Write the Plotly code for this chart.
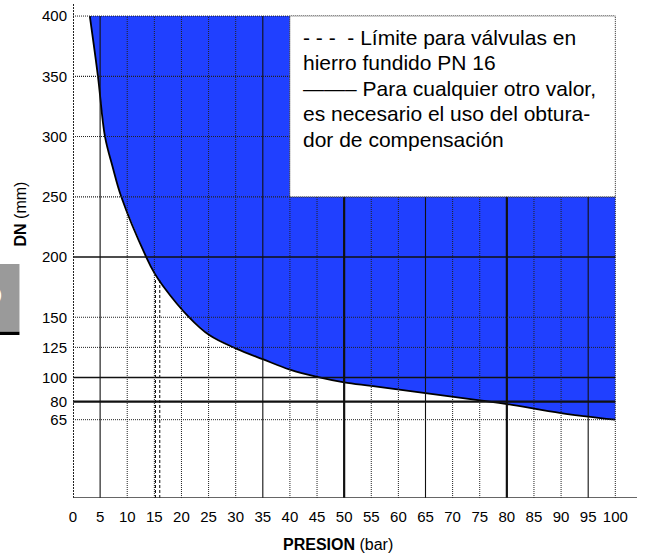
import plotly.graph_objects as go

# ---- data ----
pressure_bar = [3.1, 4.6, 5.9, 7.3, 8.9, 13.5, 15.1, 16.6, 21.2, 25.2, 30.1, 35.1, 40.0, 45.0, 50.0, 55.0, 65.0, 75.0, 80.0, 90.0, 100.0]
dn_limit_mm = [400, 350, 300, 275, 250, 200, 186, 176, 151, 135, 124, 115, 106.5, 100.5, 96, 93, 87, 81, 78, 70.5, 65]

box_pressure = [40, 100]        # legend box (white area) in bar
box_dn = [250, 400]             # legend box in mm

pn16_pressure = [15.2, 16.0]    # dashed limit for cast iron PN 16
pn16_top_dn = 181

x_ticks = list(range(0, 101, 5))
y_ticks = [65, 80, 100, 125, 150, 200, 250, 300, 350, 400]

x_solid = {5: 1.1, 35: 1.1, 65: 1.1, 95: 1.1, 50: 2.2, 80: 2.2}
y_solid = {80: 2.2, 100: 1.6, 200: 1.6}

legend_lines = [
    "- - -\u00a0\u00a0-\u00a0Límite para válvulas en",
    "hierro fundido PN 16",
    "\u2014\u2014\u2013 Para cualquier otro valor,",
    "es necesario el uso del obtura-",
    "dor de compensación",
]

BLUE = "#2040ff"
FONT = "Liberation Sans, Arial, sans-serif"

fig = go.Figure()

# blue region above the curve
fill_x = pressure_bar + [box_pressure[1], box_pressure[1], box_pressure[0], box_pressure[0]]
fill_y = dn_limit_mm + [dn_limit_mm[-1], box_dn[0], box_dn[0], box_dn[1]]
fig.add_trace(go.Scatter(x=fill_x, y=fill_y, fill="toself", fillcolor=BLUE,
                         mode="lines", line=dict(width=0, color=BLUE),
                         hoverinfo="skip", showlegend=False))

# limit curve
fig.add_trace(go.Scatter(x=pressure_bar, y=dn_limit_mm, mode="lines",
                         line=dict(color="black", width=1.8, shape="spline", smoothing=1.0),
                         showlegend=False))

# dashed PN16 lines
for p in pn16_pressure:
    fig.add_trace(go.Scatter(x=[p, p], y=[0, pn16_top_dn], mode="lines",
                             line=dict(color="black", width=1, dash="3px,2px"),
                             showlegend=False))

shapes = []
# vertical grid
for xv in x_ticks[1:]:
    if xv in x_solid:
        ln = dict(color="#111", width=x_solid[xv])
    else:
        ln = dict(color="#222", width=1, dash="1px,1px")
    shapes.append(dict(type="line", xref="x", yref="y", x0=xv, x1=xv, y0=0, y1=y_ticks[-1],
                       line=ln, layer="above"))
# horizontal grid
for yv in y_ticks:
    if yv in y_solid:
        ln = dict(color="#111", width=y_solid[yv])
    else:
        ln = dict(color="#222", width=1.3 if yv in (250, 350) else 1, dash="1px,1px")
    shapes.append(dict(type="line", xref="x", yref="y", x0=0, x1=x_ticks[-1], y0=yv, y1=yv,
                       line=ln, layer="above"))
# legend box
shapes.append(dict(type="rect", xref="x", yref="y", x0=box_pressure[0], x1=box_pressure[1],
                   y0=box_dn[0], y1=box_dn[1], fillcolor="white",
                   line=dict(color="#555", width=1, dash="1px,1px"), layer="above"))
# axes
shapes.append(dict(type="line", xref="x", yref="paper", x0=0, x1=0, y0=0, y1=1,
                   line=dict(color="#222", width=2, dash="2px,1px"), layer="above"))
shapes.append(dict(type="line", xref="paper", yref="y", x0=0, x1=1, y0=0, y1=0,
                   line=dict(color="#333", width=1.6), layer="above"))
# grey tab at the left edge
shapes.append(dict(type="rect", xref="paper", yref="paper", x0=-0.14, x1=-0.0949,
                   y0=0.3366, y1=0.4737, fillcolor="#9a9a9a", line=dict(width=0), layer="above"))
shapes.append(dict(type="rect", xref="paper", yref="paper", x0=-0.14, x1=-0.0949,
                   y0=0.330, y1=0.3366, fillcolor="black", line=dict(width=0), layer="above"))

annotations = []
line_y0 = 382.3
line_step = 21.1
for i, t in enumerate(legend_lines):
    annotations.append(dict(x=42, y=line_y0 - i * line_step, xref="x", yref="y",
                            text=t, showarrow=False, xanchor="left", yanchor="middle",
                            font=dict(family=FONT, size=21, color="black")))
annotations.append(dict(x=0.469, y=-0.094, xref="paper", yref="paper",
                        text="<b>PRESION</b> (bar)", showarrow=False,
                        xanchor="center", yanchor="middle",
                        font=dict(family=FONT, size=16, color="black")))
annotations.append(dict(x=-0.093, y=0.575, xref="paper", yref="paper",
                        text="<b>DN</b> (mm)", showarrow=False, textangle=-90,
                        xanchor="center", yanchor="middle",
                        font=dict(family=FONT, size=16, color="black")))
annotations.append(dict(x=-0.1223, y=0.41, xref="paper", yref="paper",
                        text="<b>D</b>", showarrow=False, xanchor="right", yanchor="middle",
                        font=dict(family=FONT, size=28, color="white")))

fig.update_layout(
    width=648, height=556,
    margin=dict(l=73, r=11, t=4, b=58),
    paper_bgcolor="white", plot_bgcolor="white",
    showlegend=False,
    shapes=shapes, annotations=annotations,
    font=dict(family=FONT, color="black"),
    xaxis=dict(range=[0, 104], tickvals=x_ticks, ticktext=[str(v) for v in x_ticks],
               showgrid=False, zeroline=False, showline=False, ticks="",
               ticklabelstandoff=8, tickfont=dict(size=15, family=FONT, color="black")),
    yaxis=dict(range=[0, 410], tickvals=y_ticks, ticktext=[str(v) for v in y_ticks],
               showgrid=False, zeroline=False, showline=False, ticks="",
               ticklabelstandoff=5, tickfont=dict(size=15, family=FONT, color="black")),
)

fig.write_html("out.html", config={"displayModeBar": False},
               post_script="document.body.style.margin='0px';")
